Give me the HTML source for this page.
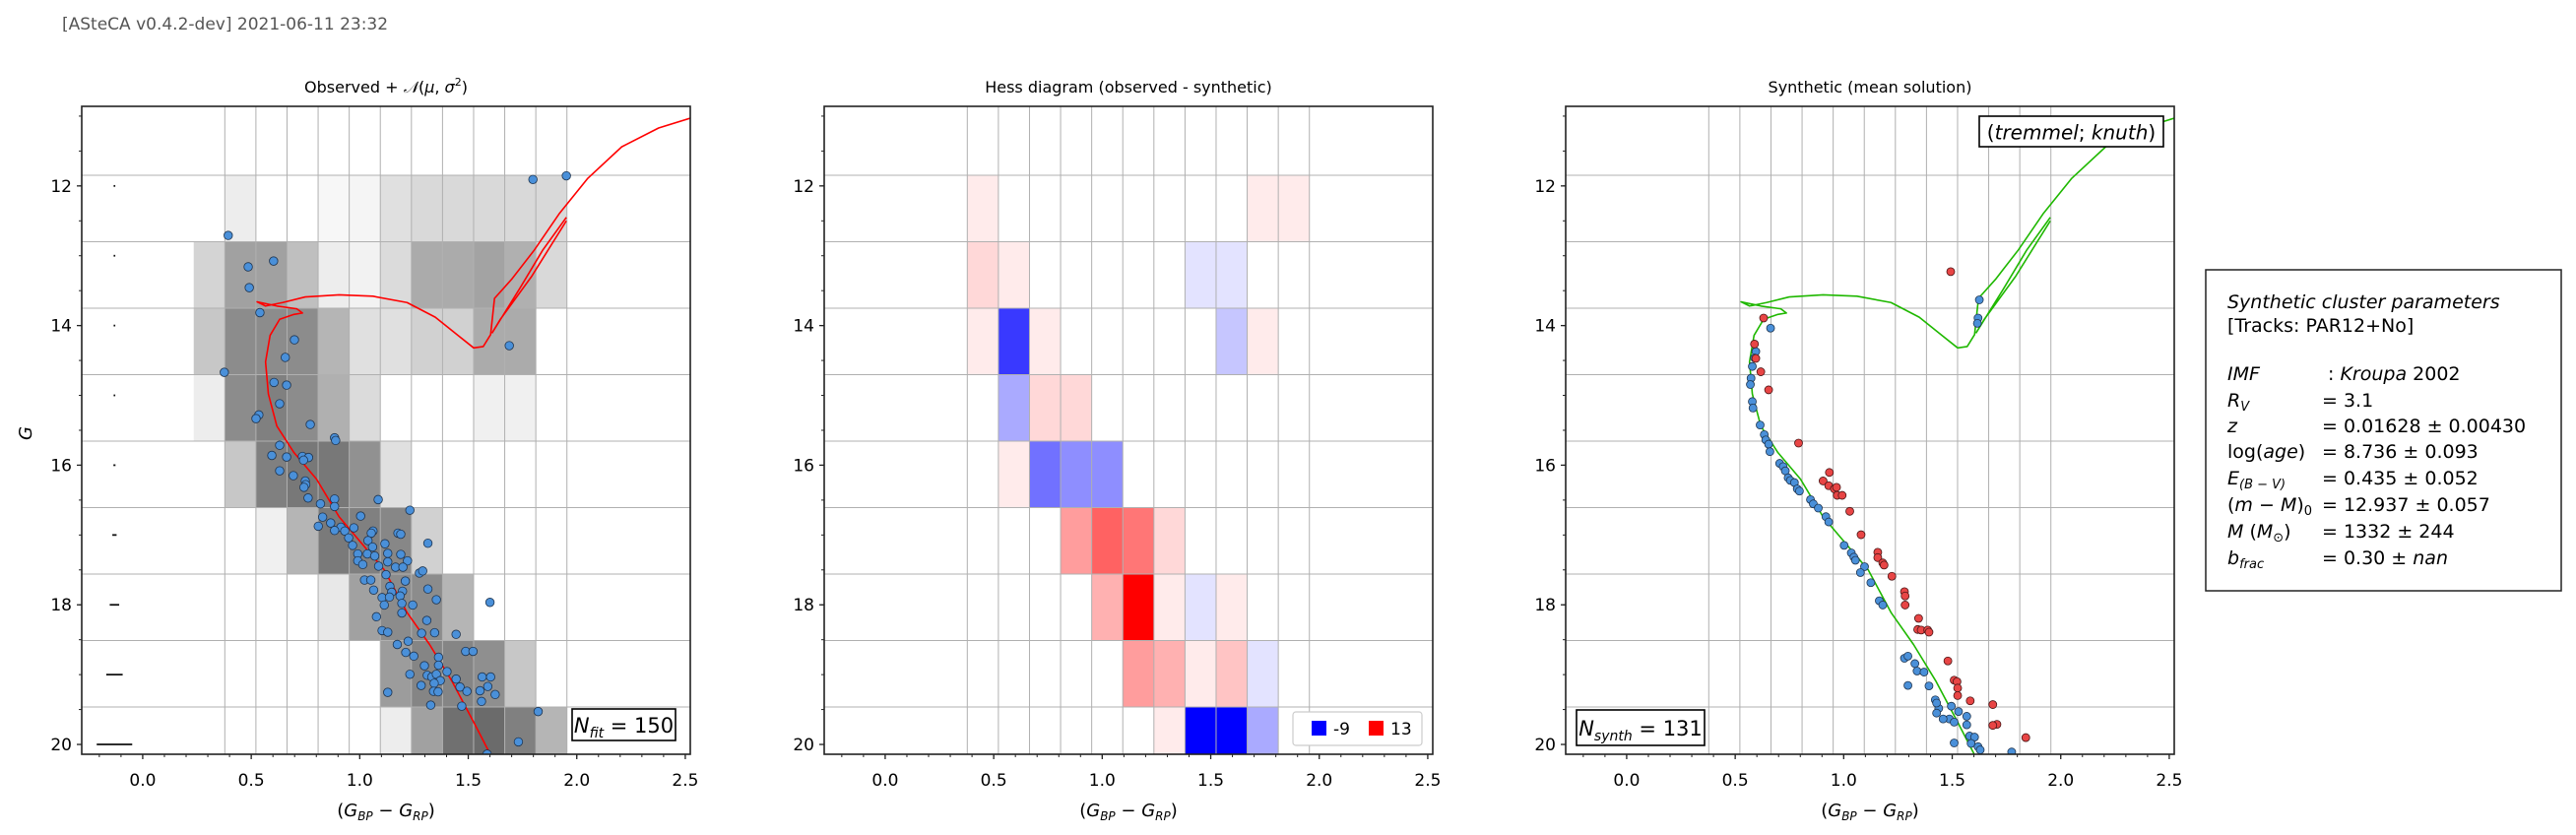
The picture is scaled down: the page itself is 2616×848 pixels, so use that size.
<!DOCTYPE html>
<html><head><meta charset="utf-8">
<style>
html,body{margin:0;padding:0;background:#fff;}
svg{display:block;font-family:"DejaVu Sans","Liberation Sans",sans-serif;}
</style></head>
<body>
<svg id="fig" width="2616" height="848" viewBox="0 0 2616 848" xmlns="http://www.w3.org/2000/svg">
<text x="63" y="30" font-size="17" fill="#555">[ASteCA v0.4.2-dev] 2021-06-11 23:32</text>
<g id="p1"></g>
<g id="p2"></g>
<g id="p3"></g>
<g>
<rect x="2240" y="274" width="361" height="326" fill="#fff" stroke="#222" stroke-width="1.5"/>
<g font-size="19" fill="#000">
<text x="2262" y="313" font-style="italic">Synthetic cluster parameters</text>
<text x="2262" y="337">[Tracks: PAR12+No]</text>
<text x="2262" y="386" font-style="italic">IMF</text><text x="2364" y="386">: <tspan font-style="italic">Kroupa</tspan> 2002</text>
<text x="2262" y="413"><tspan font-style="italic">R</tspan><tspan font-size="13" dy="4" font-style="italic">V</tspan></text><text x="2358" y="413">=  3.1</text>
<text x="2262" y="439" font-style="italic">z</text><text x="2358" y="439">=  0.01628 ± 0.00430</text>
<text x="2262" y="465">log(<tspan font-style="italic">age</tspan>)</text><text x="2358" y="465">=  8.736 ± 0.093</text>
<text x="2262" y="492"><tspan font-style="italic">E</tspan><tspan font-size="13" dy="4" font-style="italic">(B − V)</tspan></text><text x="2358" y="492">=  0.435 ± 0.052</text>
<text x="2262" y="519">(<tspan font-style="italic">m</tspan> − <tspan font-style="italic">M</tspan>)<tspan font-size="13" dy="4">0</tspan></text><text x="2358" y="519">=  12.937 ± 0.057</text>
<text x="2262" y="546"><tspan font-style="italic">M</tspan> (<tspan font-style="italic">M</tspan><tspan font-size="13" dy="4">⊙</tspan><tspan dy="-4">)</tspan></text><text x="2358" y="546">=  1332 ± 244</text>
<text x="2262" y="573"><tspan font-style="italic">b</tspan><tspan font-size="13" dy="4" font-style="italic">frac</tspan></text><text x="2358" y="573">=  0.30 ± <tspan font-style="italic">nan</tspan></text>
</g></g>
</svg>
<script>
// ---- data ----
const binXEdges0 = 0.235, binXStep = 0.1433, binYEdges0 = 11.848, binYStep = 0.952;
const obsDensity = [
 [0,.07,0,0,.03,.04,.12,.15,.15,.15,.15,.15],
 [.17,.37,.37,.25,.07,.05,.14,.33,.33,.36,.31,.15],
 [.22,.45,.45,.45,.29,.12,.12,.18,.18,.33,.33,0],
 [.07,.45,.5,.45,.31,.14,0,0,0,.06,.06,0],
 [0,.22,.5,.53,.53,.43,.12,0,0,0,0,0],
 [0,0,.06,.29,.52,.5,.47,.18,0,0,0,0],
 [0,0,0,0,.09,.37,.45,.45,.29,0,0,0],
 [0,0,0,0,0,0,.39,.48,.48,.44,.22,0],
 [0,0,0,0,0,0,.07,.37,.56,.58,.5,.29]
];
const hessDiff = [
 [0,1,0,0,0,0,0,0,0,0,1,1],
 [0,2,1,0,0,0,0,0,-1,-1,0,0],
 [0,1,-7,1,0,0,0,0,0,-2,1,0],
 [0,0,-3,2,2,0,0,0,0,0,0,0],
 [0,0,1,-5,-4,-4,0,0,0,0,0,0],
 [0,0,0,0,5,8,7,2,0,0,0,0],
 [0,0,0,0,0,4,13,1,-1,1,0,0],
 [0,0,0,0,0,0,5,4,1,3,-1,0],
 [0,0,0,0,0,0,0,1,-9,-9,-3,0]
];
const hessMin = -9, hessMax = 13;
const isoX = [1.603,1.530,1.426,1.322,1.218,1.113,1.009,0.905,0.801,0.697,0.618,0.579,0.566,0.587,0.631,0.697,0.736,0.710,0.618,0.527,0.566,0.645,0.749,0.905,1.061,1.218,1.348,1.452,1.525,1.569,1.603,1.621,1.699,1.804,1.921,2.051,2.207,2.377,2.523];
const isoY = [20.15,19.71,19.10,18.57,18.11,17.50,17.12,16.74,16.20,15.82,15.44,14.98,14.52,14.14,13.91,13.84,13.82,13.76,13.72,13.66,13.72,13.67,13.59,13.56,13.58,13.67,13.88,14.14,14.32,14.30,14.13,13.61,13.34,12.92,12.39,11.89,11.44,11.17,11.03];
const loopX = [1.952,1.843,1.739,1.609,1.648,1.791,1.952];
const loopY = [12.45,12.92,13.46,14.11,13.91,13.30,12.50];
const errMag = [12,13,14,15,16,17,18,19,20];
const errHalf = [0.002,0.002,0.002,0.002,0.003,0.008,0.02,0.036,0.08];
const obsRaw = [[1002,330],[943,337],[404,442],[439,501],[484,490],[441,540],[460,587],[521,638],[505,671],[901,649],[397,699],[485,718],[507,723],[495,758],[458,779],[453,786],[549,797],[592,822],[594,827],[495,836],[481,855],[535,857],[546,859],[507,858],[537,864],[495,884],[519,893],[540,903],[541,910],[538,915],[545,935],[592,937],[669,938],[567,946],[592,951],[725,958],[638,969],[571,971],[585,982],[563,988],[603,990],[626,991],[592,996],[610,997],[660,997],[657,1001],[704,1001],[709,1003],[617,1010],[651,1015],[681,1021],[757,1020],[624,1024],[659,1027],[633,1040],[650,1040],[663,1044],[686,1039],[709,1041],[721,1053],[633,1053],[642,1060],[686,1055],[670,1063],[700,1065],[713,1065],[742,1076],[748,1072],[683,1079],[645,1089],[656,1089],[717,1091],[690,1101],[661,1108],[693,1112],[712,1110],[757,1106],[676,1122],[689,1121],[708,1119],[730,1136],[711,1133],[680,1136],[772,1126],[867,1131],[666,1158],[711,1151],[755,1165],[676,1184],[686,1187],[746,1189],[769,1188],[807,1191],[722,1204],[703,1210],[718,1225],[732,1232],[776,1234],[776,1249],[751,1250],[824,1223],[837,1223],[725,1266],[756,1268],[791,1261],[764,1271],[772,1266],[779,1278],[807,1275],[814,1290],[826,1298],[745,1287],[768,1283],[767,1298],[775,1299],[686,1300],[853,1271],[868,1271],[863,1289],[849,1297],[876,1304],[852,1317],[762,1324],[817,1326],[952,1336],[917,1393],[862,1416]];
const obsX = obsRaw.map(p=>+((p[0]-252.6)/383.9).toFixed(3));
const obsY = obsRaw.map(p=>+(12+(p[1]-349)/131.1).toFixed(3));
const synBlueRaw = [[717,563],[715,597],[714,607],[419,616],[398,660],[396,672],[393,688],[391,710],[390,722],[393,754],[394,766],[404,798],[410,816],[412,826],[416,834],[418,848],[432,870],[437,876],[440,884],[444,897],[447,902],[453,906],[457,918],[460,922],[476,938],[480,946],[487,954],[498,970],[502,980],[524,1024],[534,1038],[538,1046],[540,1052],[553,1064],[547,1075],[562,1094],[574,1128],[579,1136],[610,1236],[615,1232],[625,1246],[628,1260],[638,1262],[615,1287],[645,1288],[654,1314],[659,1330],[656,1339],[677,1326],[687,1336],[674,1350],[665,1350],[699,1345],[681,1356],[699,1361],[703,1382],[710,1384],[681,1395],[705,1396],[715,1402],[718,1408],[763,1412],[656,1320]];
const synRedRaw = [[676,510],[409,597],[396,646],[398,673],[405,698],[416,732],[459,832],[503,887],[494,903],[502,912],[510,918],[513,915],[514,930],[521,930],[532,960],[548,1004],[572,1037],[572,1047],[579,1057],[581,1061],[592,1082],[610,1111],[611,1119],[611,1136],[630,1161],[629,1182],[634,1183],[643,1183],[645,1187],[672,1241],[681,1277],[685,1280],[686,1292],[686,1306],[704,1316],[736,1323],[742,1360],[736,1362],[783,1385]];
const synBlueX = synBlueRaw.map(p=>+((p[0]-213.6)/309.7).toFixed(3));
const synBlueY = synBlueRaw.map(p=>+(12+(p[1]-349)/131.1).toFixed(3));
const synRedX = synRedRaw.map(p=>+((p[0]-213.6)/309.7).toFixed(3));
const synRedY = synRedRaw.map(p=>+(12+(p[1]-349)/131.1).toFixed(3));
const xTicks = [0.0,0.5,1.0,1.5,2.0,2.5];
const yTicks = [12,14,16,18,20];

// ---- drawing ----
const NS="http://www.w3.org/2000/svg";
const TOP=108, H=658, W=618, XMIN=-0.281, XPX=220.4, YMIN=10.86, YPX=70.9;
function mk(parent, tag, attrs){const e=document.createElementNS(NS,tag);for(const k in attrs)e.setAttribute(k,attrs[k]);parent.appendChild(e);return e;}
function makeAxes(g, L){
  const sx=v=>L+(v-XMIN)*XPX, sy=v=>TOP+(v-YMIN)*YPX;
  return {sx,sy};
}
function drawGrid(g,ax){
  for(let i=1;i<=12;i++){const x=ax.sx(binXEdges0+i*binXStep);
    const l=mk(g,'line',{x1:x,x2:x,y1:TOP,y2:TOP+H,stroke:'#b0b0b0','stroke-width':1});
    
    }
  for(let j=0;j<=8;j++){const y=ax.sy(binYEdges0+j*binYStep);
    const l=mk(g,'line',{x1:ax.sx(XMIN),x2:ax.sx(XMIN)+W,y1:y,y2:y,stroke:'#b0b0b0','stroke-width':1});
    
    }
}
function drawFrame(g,L,ax,title,showYLabel){
  mk(g,'rect',{x:L,y:TOP,width:W,height:H,fill:'none',stroke:'#222','stroke-width':1.6});
  for(let v=-0.2;v<=2.51;v+=0.1){const x=ax.sx(v);mk(g,'line',{x1:x,x2:x,y1:TOP+H,y2:TOP+H+3,stroke:'#222','stroke-width':1});}
  xTicks.forEach(v=>{const x=ax.sx(v);mk(g,'line',{x1:x,x2:x,y1:TOP+H,y2:TOP+H+5,stroke:'#222','stroke-width':1.3});
    const t=mk(g,'text',{x:x,y:798,'font-size':17,'text-anchor':'middle'});t.textContent=v.toFixed(1);
    
    });
  for(let v=11;v<=20.01;v+=0.5){const y=ax.sy(v);mk(g,'line',{x1:L,x2:L-3,y1:y,y2:y,stroke:'#222','stroke-width':1});}
  yTicks.forEach(v=>{const y=ax.sy(v);mk(g,'line',{x1:L,x2:L-5,y1:y,y2:y,stroke:'#222','stroke-width':1.3});
    const t=mk(g,'text',{x:L-10,y:y+6,'font-size':17,'text-anchor':'end'});t.textContent=v;
    
    });
  const xl=mk(g,'text',{x:L+W/2,y:829,'font-size':18,'text-anchor':'middle'});
  xl.innerHTML='(<tspan font-style="italic">G</tspan><tspan font-size="12" dy="4" font-style="italic">BP</tspan><tspan dy="-4"> − </tspan><tspan font-style="italic">G</tspan><tspan font-size="12" dy="4" font-style="italic">RP</tspan><tspan dy="-4">)</tspan>';
  
  
  const tt=mk(g,'text',{x:L+W/2,y:94,'font-size':16,'text-anchor':'middle'});tt.innerHTML=title;
  
  
  if(showYLabel){const yl=mk(g,'text',{x:27,y:445,'font-size':18,'font-style':'italic','text-anchor':'middle',transform:'rotate(-90 27 440)'});yl.textContent='G';
    
    }
}
function drawIso(g,ax,color){
  const pts=isoX.map((v,i)=>ax.sx(v)+','+ax.sy(isoY[i])).join(' ');
  const p=mk(g,'polyline',{points:pts,fill:'none',stroke:color,'stroke-width':1.6,'stroke-linejoin':'round'});
  
  
  const lp=loopX.map((v,i)=>ax.sx(v)+','+ax.sy(loopY[i])).join(' ');
  const q=mk(g,'polyline',{points:lp,fill:'none',stroke:color,'stroke-width':1.6});
  
  
}
function clip(id,L){const d=mk(document.getElementById('fig'),'clipPath',{id:id});mk(d,'rect',{x:L,y:TOP,width:W,height:H});}
function box(g,x,y,w,h,html,size){mk(g,'rect',{x:x,y:y,width:w,height:h,fill:'#fff',stroke:'#000','stroke-width':1.6});
  const t=mk(g,'text',{x:x+w/2,y:y+h/2+8,'font-size':size,'text-anchor':'middle'});t.innerHTML=html;return t;}

// Panel 1
(function(){
  const L=83, g=document.getElementById('p1'), ax=makeAxes(g,L);
  clip('c1',L); const inner=mk(g,'g',{'clip-path':'url(#c1)'});
  obsDensity.forEach((row,j)=>row.forEach((a,i)=>{ if(a<=0)return;
    const c=Math.round(255*(1-a));
    const r=mk(inner,'rect',{x:ax.sx(binXEdges0+i*binXStep),y:ax.sy(binYEdges0+j*binYStep),width:binXStep*XPX,height:binYStep*YPX,fill:`rgb(${c},${c},${c})`});
    
    }));
  drawGrid(inner,ax);
  errMag.forEach((m,i)=>{const l=mk(inner,'line',{x1:ax.sx(-0.132-errHalf[i]),x2:ax.sx(-0.132+errHalf[i])+0.8,y1:ax.sy(m),y2:ax.sy(m),stroke:'#111','stroke-width':1.8});
    
    });
  drawIso(inner,ax,'#ff0000');
  obsX.forEach((v,i)=>{const c=mk(inner,'circle',{cx:ax.sx(v),cy:ax.sy(obsY[i]),r:4.3,fill:'#4a90d9',stroke:'#1f3550','stroke-width':0.8});
    
    });
  drawFrame(g,L,ax,'Observed + <tspan font-style="italic">𝒩</tspan>(<tspan font-style="italic">μ</tspan>, <tspan font-style="italic">σ</tspan><tspan font-size="11" dy="-7">2</tspan><tspan dy="7">)</tspan>',true);
  const b=box(g,581,720,105,32,'<tspan font-style="italic">N</tspan><tspan font-size="14" dy="5" font-style="italic">fit</tspan><tspan dy="-5"> = 150</tspan>',21);
  
  
})();
// Panel 2
(function(){
  const L=837, g=document.getElementById('p2'), ax=makeAxes(g,L);
  clip('c2',L); const inner=mk(g,'g',{'clip-path':'url(#c2)'});
  hessDiff.forEach((row,j)=>row.forEach((v,i)=>{ if(v===0)return;
    const fill=v>0?`rgba(255,0,0,${v/hessMax})`:`rgba(0,0,255,${v/hessMin})`;
    const r=mk(inner,'rect',{x:ax.sx(binXEdges0+i*binXStep),y:ax.sy(binYEdges0+j*binYStep),width:binXStep*XPX,height:binYStep*YPX,fill:fill});
    
    }));
  drawGrid(inner,ax);
  drawFrame(g,L,ax,'Hess diagram (observed - synthetic)',false);
  const lg=mk(g,'g',{});
  
  
  mk(lg,'rect',{x:1313,y:723,width:131,height:34,rx:3,fill:'#fff',stroke:'#ccc','stroke-width':1.2});
  mk(lg,'rect',{x:1332,y:732,width:15,height:15,fill:'#0000ff'});
  const t1=mk(lg,'text',{x:1354,y:746,'font-size':17});t1.textContent=String(hessMin);
  mk(lg,'rect',{x:1390,y:732,width:15,height:15,fill:'#ff0000'});
  const t2=mk(lg,'text',{x:1412,y:746,'font-size':17});t2.textContent=String(hessMax);
})();
// Panel 3
(function(){
  const L=1590, g=document.getElementById('p3'), ax=makeAxes(g,L);
  clip('c3',L); const inner=mk(g,'g',{'clip-path':'url(#c3)'});
  drawGrid(inner,ax);
  drawIso(inner,ax,'#1fb800');
  synBlueX.forEach((v,i)=>{const c=mk(inner,'circle',{cx:ax.sx(v),cy:ax.sy(synBlueY[i]),r:4,fill:'#4a90d9',stroke:'#1f3550','stroke-width':0.8});
    
    });
  synRedX.forEach((v,i)=>{const c=mk(inner,'circle',{cx:ax.sx(v),cy:ax.sy(synRedY[i]),r:4,fill:'#e84545',stroke:'#4a1515','stroke-width':0.8});
    
    });
  drawFrame(g,L,ax,'Synthetic (mean solution)',false);
  const b=box(g,1601,721,130,36,'<tspan font-style="italic">N</tspan><tspan font-size="14" dy="5" font-style="italic">synth</tspan><tspan dy="-5"> = 131</tspan>',21);
  
  
  const b2=box(g,2010,118,187,31,'(<tspan font-style="italic">tremmel</tspan>; <tspan font-style="italic">knuth</tspan>)',20);
  
  
})();
</script>
</body></html>
